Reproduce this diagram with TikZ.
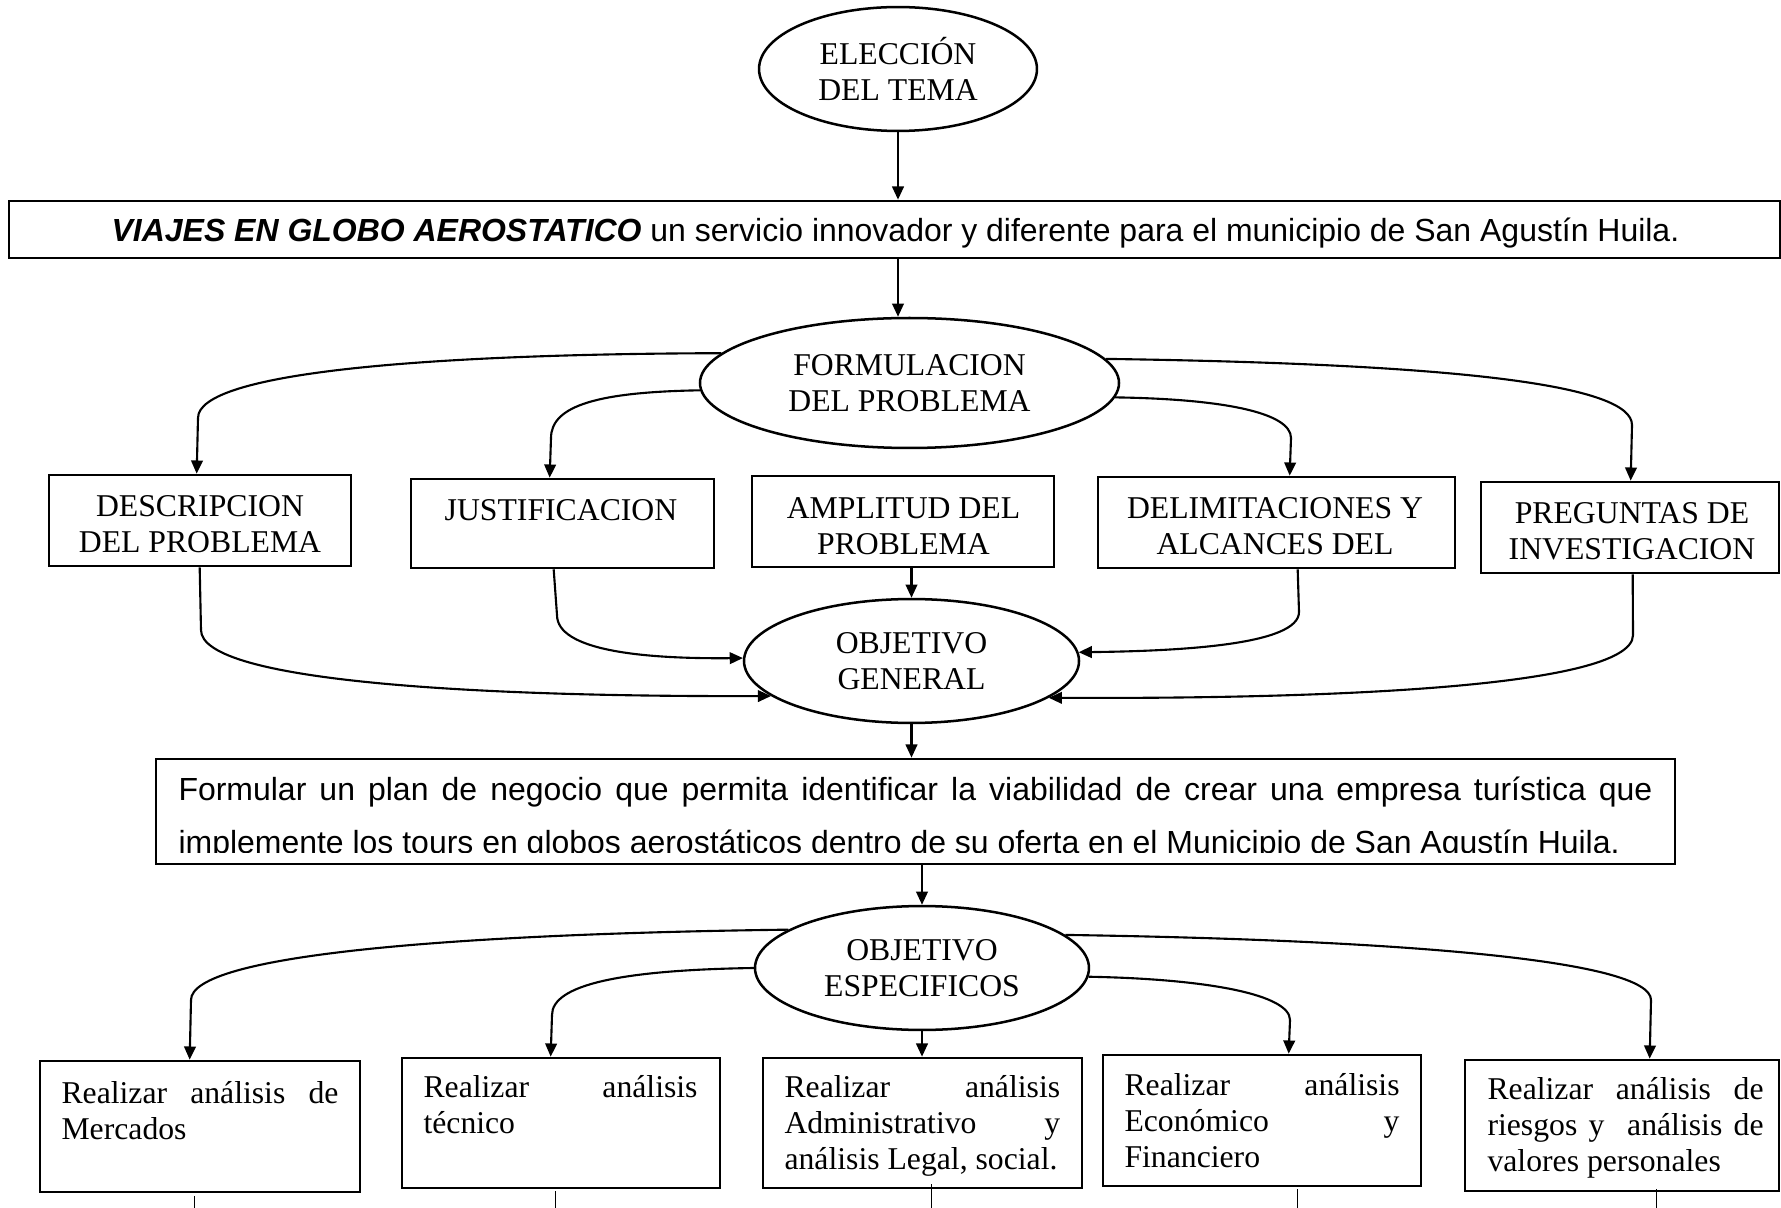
\documentclass[tikz,border=0pt]{standalone}
\usepackage{fontspec}
\setmainfont{Liberation Serif}
\newfontfamily\arialf{Liberation Sans}
\usetikzlibrary{arrows.meta,fit,calc,shapes.geometric}
\begin{document}
\begin{tikzpicture}[x=0.3785pt,y=-0.3785pt,
  box/.style={draw, line width=1pt, inner sep=0pt},
  oval/.style={draw, ellipse, line width=0.95pt, inner sep=0pt, align=center, font=\fontsize{12}{13.8}\selectfont},
  con/.style={line width=0.8pt, -{Triangle[length=5pt,width=4.4pt]}},
  thinline/.style={line width=0.4pt},
  tnr/.style={font=\fontsize{12}{13.8}\selectfont, align=flush center, text width=130pt, inner sep=0pt, anchor=base},
  jtxt/.style={font=\fontsize{12}{13.8}\selectfont, align=justify, inner sep=0pt, anchor=base west},
]
\useasboundingbox (0,0) rectangle (1781,1208);
\clip (0,0) rectangle (1781,1208);

% top
\node[oval, minimum width=105.2pt, minimum height=46.9pt] (elec) at (898,69) {ELECCIÓN\\DEL TEMA};
\node[box, fit={(9,201) (1780,258)}] (tema) {};
\node[font=\arialf\fontsize{12.1}{13.8}\selectfont, anchor=base, inner sep=0pt] (temaT) at (895.5,242)
  {\textbf{\textit{VIAJES EN GLOBO AEROSTATICO}} un servicio innovador y diferente para el municipio de San Agustín Huila.};

\node[oval, minimum width=158.6pt, minimum height=49.2pt] (form) at (909.5,383) {FORMULACION\\DEL PROBLEMA};

% row 1
\node[box, fit={(49,475) (351,566)}] (desc) {};
\node[tnr] (descT) at (200,516.5) {DESCRIPCION\\DEL PROBLEMA};
\node[box, fit={(411,479) (714,568)}] (just) {};
\node[tnr] (justT) at (561,520.5) {JUSTIFICACION};
\node[box, fit={(752,476) (1054,567)}] (ampl) {};
\node[tnr] (amplT) at (903.5,518.5) {AMPLITUD DEL\\PROBLEMA};
\node[box, fit={(1098,477) (1455,568)}] (delim) {};
\node[tnr] (delimT) at (1275,518.5) {DELIMITACIONES Y\\ALCANCES DEL};
\node[box, fit={(1481,482) (1779,573)}] (preg) {};
\node[tnr] (pregT) at (1632,523.5) {PREGUNTAS DE\\INVESTIGACION};

\node[oval, minimum width=126.8pt, minimum height=46.9pt] (objgen) at (911.5,661) {OBJETIVO\\GENERAL};

% general objective text
\node[box, fit={(156,759) (1675,864)}] (formular) {};
\begin{scope}
\clip (150,755) rectangle (1680,852);
\node[font=\arialf\fontsize{12.1}{20.4}\selectfont, text width=557.9pt, align=justify, inner sep=0pt, anchor=base west] (formT) at (178,800)
  {\hyphenpenalty=10000\relax Formular un plan de negocio que permita identificar la viabilidad de crear una empresa turística que implemente los tours en globos aerostáticos dentro de su oferta en el Municipio de San Agustín Huila.};
\end{scope}

\node[oval, minimum width=126.4pt, minimum height=46.9pt] (objesp) at (922,968) {OBJETIVO\\ESPECIFICOS};

% bottom row
\node[box, fit={(40,1061) (360,1192)}] (merc) {};
\node[jtxt, text width=104.8pt] (mercT) at (61,1103) {\hyphenpenalty=10000\tolerance=10000\relax Realizar análisis de\linebreak Mercados};
\node[box, fit={(402,1058) (720,1188)}] (tec) {};
\node[jtxt, text width=103.7pt] (tecT) at (423,1097) {\hyphenpenalty=10000\tolerance=10000\relax Realizar análisis\linebreak técnico};
\node[box, fit={(763,1058) (1082,1188)}] (mid) {};
\node[jtxt, text width=104.3pt] (midT) at (784,1097) {\hyphenpenalty=10000\tolerance=10000\relax Realizar análisis\linebreak Administrativo y\linebreak análisis Legal, social.};
\node[box, fit={(1103,1055) (1421,1186)}] (econ) {};
\node[jtxt, text width=104.1pt] (econT) at (1124,1095) {\hyphenpenalty=10000\tolerance=10000\relax Realizar análisis\linebreak Económico y\linebreak Financiero};
\node[box, fit={(1465,1060) (1779,1191)}] (ries) {};
\node[jtxt, text width=104.5pt] (riesT) at (1487,1099) {\hyphenpenalty=10000\tolerance=10000\relax Realizar análisis de\linebreak riesgos y\ \ análisis de\linebreak valores personales};

% connectors
\draw[con] (elec.south) -- (elec.south |- tema.north);
\draw[con] (elec.south |- tema.south) -- (elec.south |- form.north);

\draw[con] (form.171) .. controls (430,354) and (198,372) .. (198,418) -- ($(desc.north west)+(149,0)$);
\draw[con] (form.182) .. controls (600,392) and (551,405) .. (551,438) -- ($(just.north west)+(140,0)$);
\draw[con] (form.356) .. controls (1225,399) and (1291,413) .. (1291,438) -- ($(delim.north west)+(193,0)$);
\draw[con] (form.7) .. controls (1460,364) and (1632,385) .. (1632,425) -- ($(preg.north west)+(151,0)$);

\draw[con] ($(desc.south west)+(152,0)$) -- (201,630) .. controls (201,682) and (480,697) .. (objgen.194);
\draw[con] ($(just.south west)+(144,0)$) -- (557,615) .. controls (557,650) and (640,659) .. (objgen.179);
\draw[con] (objgen.north |- ampl.south) -- (objgen.north);
\draw[con] ($(delim.south west)+(201,0)$) -- (1299,612) .. controls (1299,645) and (1180,651) .. (objgen.3);
\draw[con] ($(preg.south west)+(153,0)$) -- (1633,635) .. controls (1633,690) and (1300,699) .. (objgen.345);

\draw[con] (objgen.south) -- (objgen.south |- formular.north);
\draw[con] (objesp.north |- formular.south) -- (objesp.north);

\draw[con] (objesp.164) .. controls (450,934) and (191,955) .. (191,1000) -- ($(merc.north west)+(151,0)$);
\draw[con] (objesp.west) .. controls (620,970) and (552,985) .. (552,1015) -- ($(tec.north west)+(150,0)$);
\draw[con] (objesp.south) -- (objesp.south |- mid.north);
\draw[con] (objesp.357) .. controls (1210,979) and (1290,995) .. (1290,1020) -- ($(econ.north west)+(187,0)$);
\draw[con] (objesp.13) .. controls (1400,940) and (1651,960) .. (1651,1000) -- ($(ries.north west)+(186,0)$);

% stubs below bottom boxes
\draw[thinline] ($(merc.south west)+(156,3)$) -- ++(0,25);
\draw[thinline] ($(tec.south west)+(155,2)$) -- ++(0,25);
\draw[thinline] ($(mid.south west)+(170,-5)$) -- ++(0,35);
\draw[thinline] ($(econ.south west)+(196,2)$) -- ++(0,25);
\draw[thinline] ($(ries.south west)+(193,-3)$) -- ++(0,25);
\end{tikzpicture}
\end{document}
